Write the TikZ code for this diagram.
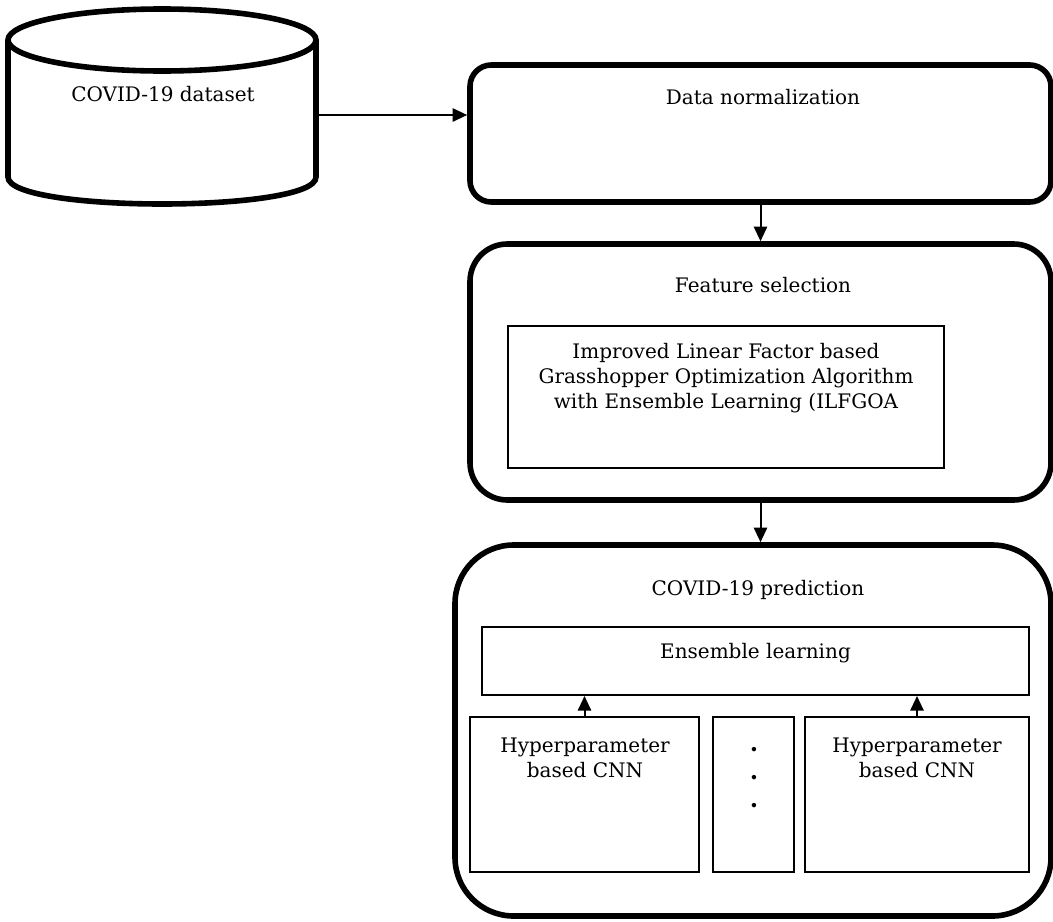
\documentclass[tikz,border=0pt]{standalone}
\usepackage{fontspec}
\setmainfont{DejaVu Serif}
\usetikzlibrary{arrows.meta,positioning}

\begin{document}
\begin{tikzpicture}[x=0.75pt,y=0.75pt,yscale=-1,xscale=1,
  stage/.style={draw,line width=4.2pt,rounded corners=#1,inner sep=0pt},
  inbox/.style={draw,line width=1.5pt,inner sep=0pt},
  txt/.style={font=\fontsize{15}{19}\selectfont,align=center,inner sep=0pt},
  flow/.style={line width=1.5pt,-{Triangle[length=11pt,width=10pt]}}]
\useasboundingbox (0,0) rectangle (1053,921);

%Shape: Can [id:db]
\draw [line width=4.2pt] (162,40) ellipse [x radius=154, y radius=31];
\draw [line width=4.2pt] (8,40) -- (8,177) .. controls (8,213) and (316,213) .. (316,177) -- (316,40) ;
\node [txt] (db) at (163,94) {COVID-19 dataset};
\coordinate (dbout) at (316,115);

%Rounded Rect [id:norm]
\node [stage=16pt, minimum width=435.75pt, minimum height=102.75pt] (norm) at (760.5,133.5) {};
\node [txt] (normtitle) at (763,97) {Data normalization};

%Rounded Rect [id:feat]
\node [stage=28pt, minimum width=435.75pt, minimum height=192pt] (feat) at (760.5,372) {};
\node [txt] (feattitle) at (763,285) {Feature selection};
\node [inbox, minimum width=327pt, minimum height=106.5pt] (ilfgoa) at (726,397) {};
\node [txt] (ilfgoatext) at (726,378) {Improved Linear Factor based\\Grasshopper Optimization Algorithm\\with Ensemble Learning (ILFGOA};

%Rounded Rect [id:pred]
\node [stage=44pt, minimum width=447pt, minimum height=278.25pt] (pred) at (753,730.5) {};
\node [txt] (predtitle) at (758,590) {COVID-19 prediction};
\node [inbox, minimum width=410.25pt, minimum height=51pt] (ens) at (755.5,661) {};
\node [txt] (enstext) at (755.5,653) {Ensemble learning};
\node [inbox, minimum width=171.75pt, minimum height=116.25pt] (cnnl) at (584.5,794.5) {};
\node [txt] (cnnltext) at (585,758) {Hyperparameter\\based CNN};
\node [inbox, minimum width=60.75pt, minimum height=116.25pt] (more) at (753.5,794.5) {};
\node [txt, font=\fontsize{18}{21}\selectfont\bfseries] (moretext) at (754,778) {.\\.\\.};
\node [inbox, minimum width=168pt, minimum height=116.25pt] (cnnr) at (917,794.5) {};
\node [txt] (cnnrtext) at (917,758) {Hyperparameter\\based CNN};

%Straight Lines
\draw [flow] (dbout) -- (norm.west |- dbout);
\draw [flow] (norm.south) -- (feat.north);
\draw [flow] (feat.south) -- (feat.south |- pred.north);
\draw [flow] (cnnl.north) -- (cnnl.north |- ens.south);
\draw [flow] (cnnr.north) -- (cnnr.north |- ens.south);

\end{tikzpicture}
\end{document}
